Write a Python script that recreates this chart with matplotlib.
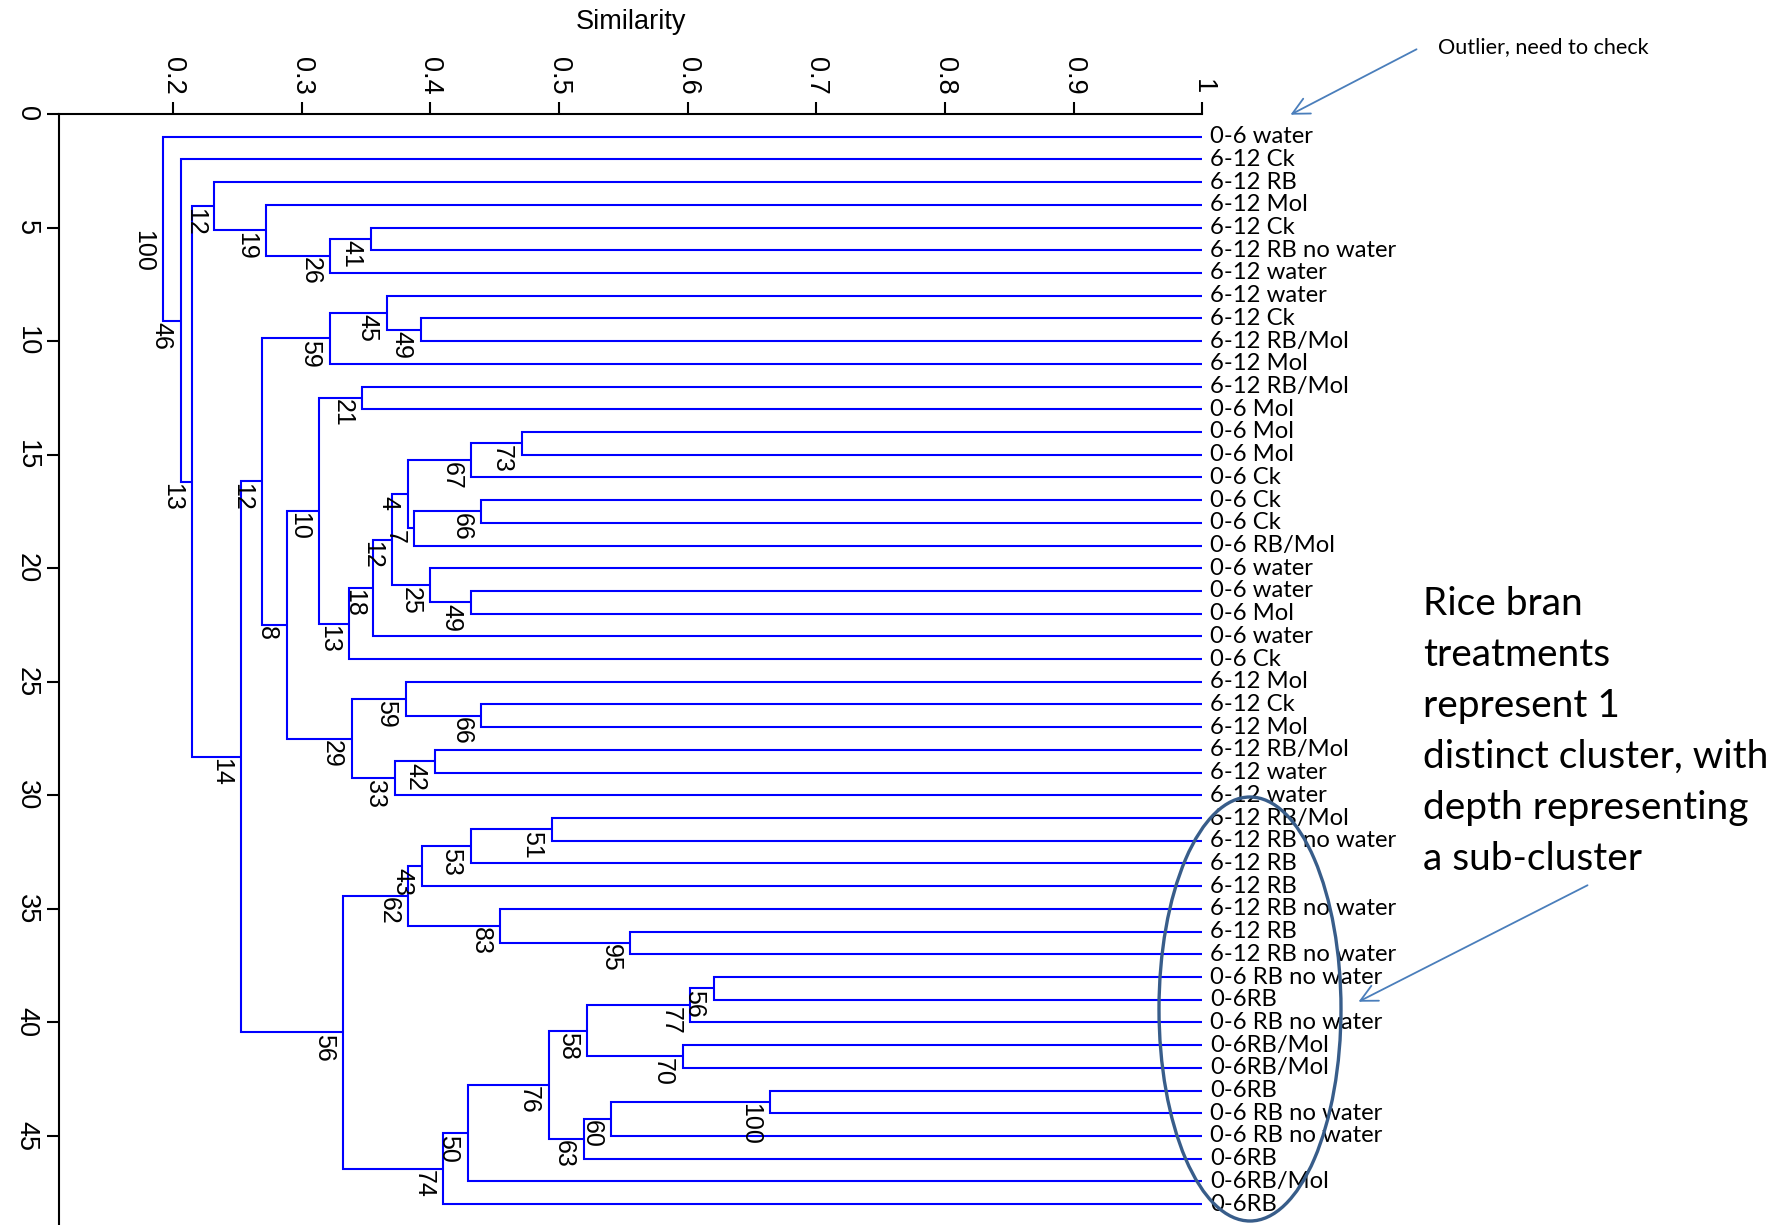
import matplotlib
matplotlib.use("Agg")
import matplotlib.pyplot as plt
from matplotlib.patches import Ellipse, FancyArrowPatch

# Samples in dendrogram order (top to bottom)
leaf_labels = [
    "0-6 water", "6-12 Ck", "6-12 RB", "6-12 Mol", "6-12 Ck", "6-12 RB no water",
    "6-12 water", "6-12 water", "6-12 Ck", "6-12 RB/Mol", "6-12 Mol", "6-12 RB/Mol",
    "0-6 Mol", "0-6 Mol", "0-6 Mol", "0-6 Ck", "0-6 Ck", "0-6 Ck", "0-6 RB/Mol",
    "0-6 water", "0-6 water", "0-6 Mol", "0-6 water", "0-6 Ck",
    "6-12 Mol", "6-12 Ck", "6-12 Mol", "6-12 RB/Mol", "6-12 water", "6-12 water",
    "6-12 RB/Mol", "6-12 RB no water", "6-12 RB", "6-12 RB", "6-12 RB no water",
    "6-12 RB", "6-12 RB no water", "0-6 RB no water", "0-6RB", "0-6 RB no water",
    "0-6RB/Mol", "0-6RB/Mol", "0-6RB", "0-6 RB no water", "0-6 RB no water",
    "0-6RB", "0-6RB/Mol", "0-6RB",
]

# Cluster joins: children are leaf numbers (1-based) or names of earlier joins
merge_names = ["H", "G", "F", "D", "J", "I", "K", "M", "P", "Q", "R", "S", "T", "U",
               "V", "W", "X", "Y", "N", "Z", "AA", "AB", "AC", "AD", "AE", "L", "AG",
               "AH", "AI", "AJ", "AK", "AL", "AQ", "AP", "AR", "AS", "AM", "AN", "AO",
               "AT", "AU", "AV", "AW", "AF", "C", "B", "root"]
merge_left = [5, "H", 4, 3, 9, 8, "I", 12, 14, "P", 17, "R", "Q", 21,
              20, "T", "W", "X", "M", 26, 25, 28, "AB", "AA", "N", "K", 31,
              "AG", "AH", 36, 35, "AI", 38, "AQ", 41, "AP", 43, "AM", "AN",
              "AS", "AT", "AU", "AL", "L", "D", 2, 1]
merge_right = [6, 7, "G", "F", 10, "J", 11, 13, 15, 16, 18, 19, "S", 22,
               "U", "V", 23, 24, "Y", 27, "Z", 29, 30, "AC", "AD", "AE", 32,
               33, 34, 37, "AJ", "AK", 39, 40, 42, "AR", 44, 45, 46,
               "AO", 47, 48, "AV", "AW", "AF", "C", "B"]
merge_similarity = [0.354, 0.322, 0.272, 0.232, 0.393, 0.366, 0.322, 0.347, 0.471, 0.4315,
                    0.4394, 0.3872, 0.3827, 0.4315, 0.3997, 0.370, 0.3557, 0.3367, 0.3135,
                    0.4394, 0.3806, 0.4038, 0.3723, 0.3388, 0.2882, 0.2692, 0.4941,
                    0.4315, 0.3931, 0.5554, 0.4543, 0.3827, 0.620, 0.602, 0.596, 0.5218,
                    0.664, 0.5405, 0.519, 0.492, 0.429, 0.410, 0.3322, 0.2526, 0.2145,
                    0.206, 0.192]
merge_bootstrap = [41, 26, 19, 12, 49, 45, 59, 21, 73, 67, 66, 7, 4, 49,
                   25, 12, 18, 13, 10, 66, 59, 42, 33, 29, 8, 12, 51,
                   53, 43, 95, 83, 62, 56, 77, 70, 58, 100, 60, 63,
                   76, 50, 74, 56, 14, 13, 46, 100]

x_ticks = [0.2, 0.3, 0.4, 0.5, 0.6, 0.7, 0.8, 0.9, 1.0]
x_tick_labels = ["0.2", "0.3", "0.4", "0.5", "0.6", "0.7", "0.8", "0.9", "1"]
y_ticks = [0, 5, 10, 15, 20, 25, 30, 35, 40, 45]

LINE_BLUE = "#0000FF"
NOTE_BLUE = "#4A7EBB"
RING_BLUE = "#385D8A"
SANS = ["Liberation Sans", "DejaVu Sans"]
LABEL_FONT = ["Lato", "DejaVu Sans"]

W, H = 1787, 1225
fig = plt.figure(figsize=(W / 100, H / 100), dpi=100)
ax = fig.add_axes([59.3 / W, 0.0, (1202.4 - 59.3) / W, 1 - 114 / H])
ax.set_xlim(0.1115, 1.0)
ax.set_ylim(48.92, 0)

node_x, node_y = {}, {}


def position(child):
    if isinstance(child, int):
        return 1.0, float(child)
    return node_x[child], node_y[child]


for name, a, b, sim, boot in zip(merge_names, merge_left, merge_right,
                                 merge_similarity, merge_bootstrap):
    xa, ya = position(a)
    xb, yb = position(b)
    ax.plot([xa, sim, sim, xb], [ya, ya, yb, yb], color=LINE_BLUE, lw=1.5,
            solid_joinstyle="miter", solid_capstyle="butt", clip_on=False)
    node_x[name] = sim
    node_y[name] = (ya + yb) / 2
    ax.annotate(str(boot), (sim, node_y[name]), xytext=(-5.5, -1),
                textcoords="offset points", rotation=270, ha="right", va="top",
                fontsize=18, family=SANS, annotation_clip=False)

for i, lab in enumerate(leaf_labels, start=1):
    ax.annotate(lab, (1.0, i), xytext=(5.5, 0), textcoords="offset points",
                ha="left", va="center", fontsize=17.2, family=LABEL_FONT,
                annotation_clip=False)

# Axes frame: only the top (similarity) and left (index) axes
ax.spines["right"].set_visible(False)
ax.spines["bottom"].set_visible(False)
for side in ("top", "left"):
    ax.spines[side].set_linewidth(1.5)
ax.xaxis.tick_top()
ax.xaxis.set_label_position("top")
ax.set_xticks(x_ticks, x_tick_labels, rotation=270, ha="center", va="bottom",
              family=SANS, fontsize=19.5)
ax.set_yticks(y_ticks, [str(v) for v in y_ticks], rotation=270, ha="right",
              va="center", family=SANS, fontsize=19.5)
ax.tick_params(direction="out", length=9, width=1.5, pad=5)
ax.set_xlabel("Similarity", family=SANS, fontsize=19.5, labelpad=20)

# Annotation layer in pixel coordinates
ov = fig.add_axes([0, 0, 1, 1], zorder=5)
ov.set_xlim(0, W)
ov.set_ylim(H, 0)
ov.axis("off")
ov.patch.set_alpha(0)

ov.text(1438, 47, "Outlier, need to check", family=LABEL_FONT, fontsize=15.6,
        ha="left", va="center")
ov.add_patch(FancyArrowPatch((1419, 48), (1288, 116), arrowstyle="->,head_length=12,head_width=6",
                             color=NOTE_BLUE, lw=1.3, mutation_scale=1))

note_lines = ["Rice bran", "treatments", "represent 1", "distinct cluster, with",
              "depth representing", "a sub-cluster"]
for k, line in enumerate(note_lines):
    ov.text(1423, 615 + 51 * k, line, family=LABEL_FONT, fontsize=28,
            ha="left", va="baseline")
ov.add_patch(FancyArrowPatch((1590, 884), (1356, 1003), arrowstyle="->,head_length=12,head_width=6",
                             color=NOTE_BLUE, lw=1.3, mutation_scale=1))
ov.add_patch(Ellipse((1250, 1009), 182, 424, fill=False, edgecolor=RING_BLUE, lw=2.4))

fig.savefig("out.png", dpi=100)
